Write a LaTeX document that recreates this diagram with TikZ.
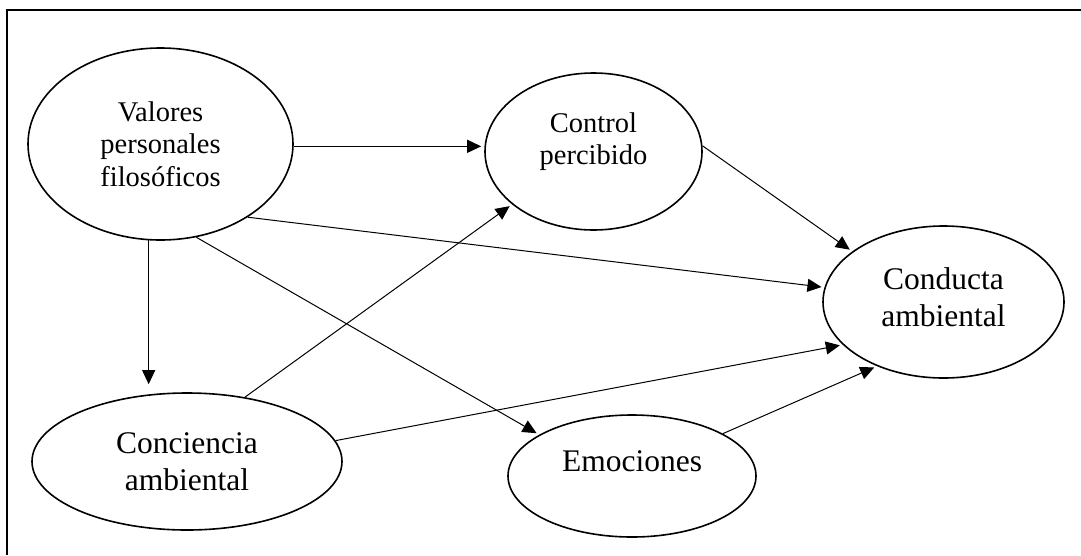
\documentclass[tikz,border=0pt]{standalone}
\usepackage{fontspec}
\setmainfont{Liberation Serif}
\usetikzlibrary{arrows.meta, shapes.geometric}

\begin{document}
\begin{tikzpicture}[x=1pt,y=-1pt,
	oval/.style={draw,ellipse,line width=1.6pt,inner sep=0pt,align=center},
	small/.style={font=\fontsize{28.5}{32.5}\selectfont},
	big/.style={font=\fontsize{31.5}{37}\selectfont},
	arr/.style={-{Triangle[length=14pt,width=13pt]},line width=1pt,shorten >=3pt}]
	\useasboundingbox (0,0) rectangle (1081,555);
	\draw[line width=1.8pt] (1081,10) -- (7,10) -- (7,555);
	\node[oval,small,minimum width=265pt,minimum height=192pt] (val) at (160.5,144) {Valores\\personales\\filosóficos};
	\node[oval,small,minimum width=217pt,minimum height=157pt,text depth=26pt] (ctl) at (593.5,151.5) {Control\\percibido};
	\node[oval,big,minimum width=241pt,minimum height=152pt,text depth=10pt] (cdt) at (943.5,302) {Conducta\\ambiental};
	\node[oval,big,minimum width=310pt,minimum height=137pt] (cnc) at (187,461.5) {Conciencia\\ambiental};
	\node[oval,big,minimum width=248pt,minimum height=122pt,text depth=30pt] (emo) at (632,476) {Emociones};
	\draw[arr] (val.-1) -- (val.-1 -| ctl.west);
	\draw[arr,shorten >=8pt] (val.263) -- (val.263 |- cnc.north);
	\draw[arr] (val.-40) -- (cdt.173);
	\draw[arr] (val.-69) -- (emo.156);
	\draw[arr] (ctl.3) -- (cdt.151);
	\draw[arr] (cnc.48) -- (ctl.213);
	\draw[arr] (cnc.8) -- (cdt.203);
	\draw[arr] (emo.25) -- (cdt.224);
\end{tikzpicture}
\end{document}
